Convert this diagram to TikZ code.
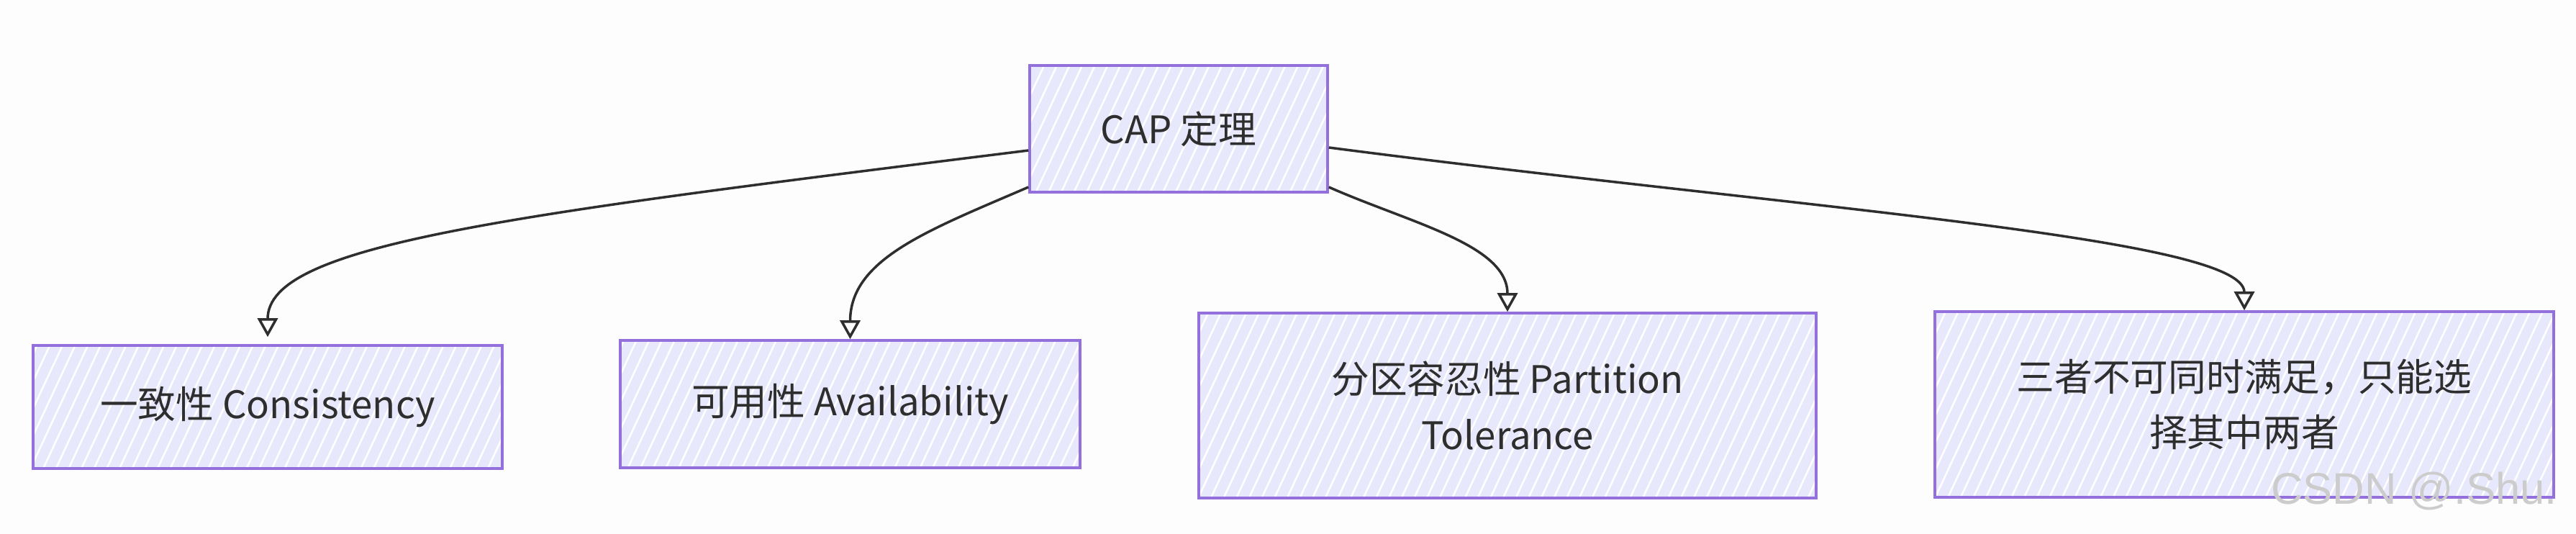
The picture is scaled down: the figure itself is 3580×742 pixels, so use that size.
\documentclass[tikz,border=0pt]{standalone}
\usepackage{fontspec}
\setmainfont{Noto Sans CJK SC}
\newfontfamily\wmfont{Liberation Sans}
\usetikzlibrary{arrows.meta,patterns.meta}
\definecolor{lav}{HTML}{E8E8FD}
\definecolor{bordc}{HTML}{9370DB}
\definecolor{ink}{HTML}{2E2E2E}
\definecolor{bgc}{HTML}{FDFDFD}
\begin{document}
\begin{tikzpicture}[x=0.1mm,y=-0.1mm,
  box/.style={draw=bordc, line width=0.35mm, inner sep=0pt, align=center,
    text=ink, font=\fontsize{15}{22}\selectfont,
    preaction={fill=lav},
    preaction={pattern={Lines[angle=65,distance=1.6mm,line width=0.25mm]}, pattern color=white}},
  arr/.style={draw=ink, line width=0.35mm, -{Triangle[open,length=2.6mm,width=2.8mm,line width=0.35mm]}}]
\useasboundingbox[fill=bgc] (0,0) rectangle (3580,742);
\node[box, minimum width=41.4mm, minimum height=17.6mm] (cap) at (1638,179) {CAP 定理};
\node[box, minimum width=65.2mm, minimum height=17.1mm] (con) at (372,565.5) {一致性 Consistency};
\node[box, minimum width=63.9mm, minimum height=17.7mm] (ava) at (1181.5,561.5) {可用性 Availability};
\node[box, minimum width=85.8mm, minimum height=25.7mm] (par) at (2095,563.5) {分区容忍性 Partition\\Tolerance};
\node[box, minimum width=86mm, minimum height=25.8mm] (thr) at (3119,562) {三者不可同时满足，只能选\\择其中两者};
\draw[arr, shorten >=1mm] ([yshift=-3mm]cap.west) .. controls (700,300) and (372,340) .. (con.north);
\draw[arr] ([yshift=-8.1mm]cap.west) .. controls (1290,320) and (1181.5,360) .. (ava.north);
\draw[arr] ([yshift=-8.1mm]cap.east) .. controls (1960,310) and (2095,340) .. (par.north);
\draw[arr] ([yshift=-2.6mm]cap.east) .. controls (2500,290) and (3119,330) .. (thr.north);
\node[text=gray!40, font=\wmfont\fontsize{17.5}{17.5}\selectfont, inner sep=0pt] (wm) at (3355,682) {CSDN @.Shu.};
\end{tikzpicture}
\end{document}
